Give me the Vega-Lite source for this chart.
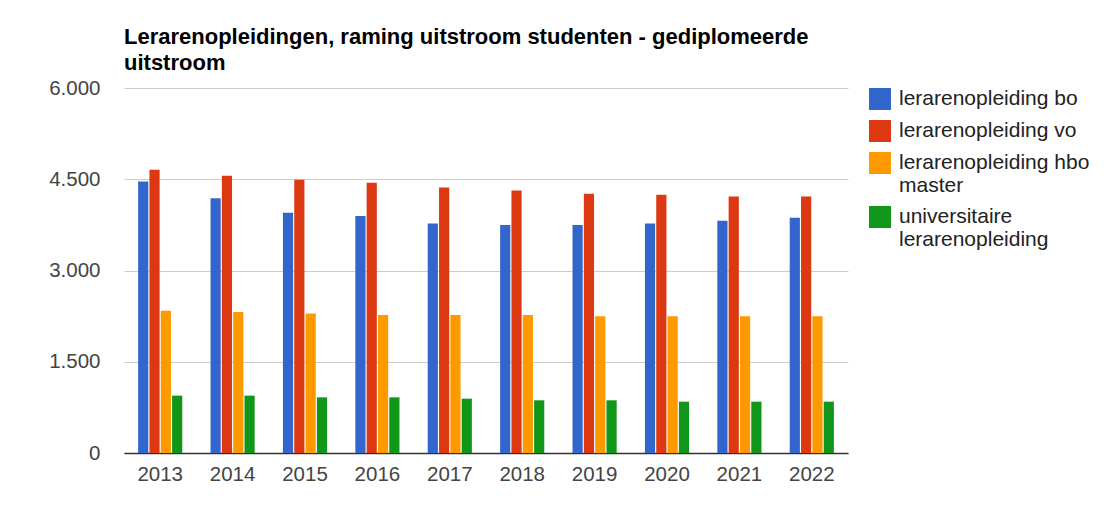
{
  "$schema": "https://vega.github.io/schema/vega-lite/v6.json",
  "width": 724,
  "height": 365,
  "autosize": {"type": "none"},
  "padding": {"left": 124, "top": 88, "right": 261, "bottom": 75},
  "background": "white",
  "title": {
    "text": ["Lerarenopleidingen, raming uitstroom studenten - gediplomeerde", "uitstroom"],
    "anchor": "start",
    "frame": "group",
    "font": "Liberation Sans",
    "fontSize": 22,
    "fontWeight": "bold",
    "color": "#000000",
    "lineHeight": 26,
    "offset": 3
  },
  "data": {
    "values": [
      {"year": "2013", "series": "lerarenopleiding bo", "value": 4464},
      {"year": "2013", "series": "lerarenopleiding vo", "value": 4656},
      {"year": "2013", "series": "lerarenopleiding hbo master", "value": 2339},
      {"year": "2013", "series": "universitaire lerarenopleiding", "value": 943},
      {"year": "2014", "series": "lerarenopleiding bo", "value": 4189},
      {"year": "2014", "series": "lerarenopleiding vo", "value": 4557},
      {"year": "2014", "series": "lerarenopleiding hbo master", "value": 2317},
      {"year": "2014", "series": "universitaire lerarenopleiding", "value": 943},
      {"year": "2015", "series": "lerarenopleiding bo", "value": 3949},
      {"year": "2015", "series": "lerarenopleiding vo", "value": 4491},
      {"year": "2015", "series": "lerarenopleiding hbo master", "value": 2295},
      {"year": "2015", "series": "universitaire lerarenopleiding", "value": 915},
      {"year": "2016", "series": "lerarenopleiding bo", "value": 3894},
      {"year": "2016", "series": "lerarenopleiding vo", "value": 4442},
      {"year": "2016", "series": "lerarenopleiding hbo master", "value": 2267},
      {"year": "2016", "series": "universitaire lerarenopleiding", "value": 915},
      {"year": "2017", "series": "lerarenopleiding bo", "value": 3774},
      {"year": "2017", "series": "lerarenopleiding vo", "value": 4365},
      {"year": "2017", "series": "lerarenopleiding hbo master", "value": 2267},
      {"year": "2017", "series": "universitaire lerarenopleiding", "value": 893},
      {"year": "2018", "series": "lerarenopleiding bo", "value": 3746},
      {"year": "2018", "series": "lerarenopleiding vo", "value": 4316},
      {"year": "2018", "series": "lerarenopleiding hbo master", "value": 2267},
      {"year": "2018", "series": "universitaire lerarenopleiding", "value": 866},
      {"year": "2019", "series": "lerarenopleiding bo", "value": 3746},
      {"year": "2019", "series": "lerarenopleiding vo", "value": 4261},
      {"year": "2019", "series": "lerarenopleiding hbo master", "value": 2246},
      {"year": "2019", "series": "universitaire lerarenopleiding", "value": 866},
      {"year": "2020", "series": "lerarenopleiding bo", "value": 3774},
      {"year": "2020", "series": "lerarenopleiding vo", "value": 4245},
      {"year": "2020", "series": "lerarenopleiding hbo master", "value": 2246},
      {"year": "2020", "series": "universitaire lerarenopleiding", "value": 844},
      {"year": "2021", "series": "lerarenopleiding bo", "value": 3818},
      {"year": "2021", "series": "lerarenopleiding vo", "value": 4217},
      {"year": "2021", "series": "lerarenopleiding hbo master", "value": 2246},
      {"year": "2021", "series": "universitaire lerarenopleiding", "value": 844},
      {"year": "2022", "series": "lerarenopleiding bo", "value": 3867},
      {"year": "2022", "series": "lerarenopleiding vo", "value": 4217},
      {"year": "2022", "series": "lerarenopleiding hbo master", "value": 2246},
      {"year": "2022", "series": "universitaire lerarenopleiding", "value": 844}
    ]
  },
  "mark": {"type": "bar"},
  "encoding": {
    "x": {
      "field": "year",
      "type": "nominal",
      "title": null,
      "scale": {"paddingInner": 0.39, "paddingOuter": 0.195},
      "axis": {
        "labelAngle": 0,
        "labelFont": "Liberation Sans",
        "labelFontSize": 20.5,
        "labelColor": "#444444",
        "labelPadding": 11,
        "ticks": false,
        "tickSize": 0,
        "domain": true,
        "domainColor": "#333333",
        "domainWidth": 1.5,
        "grid": false
      }
    },
    "xOffset": {
      "field": "series",
      "type": "nominal",
      "sort": ["lerarenopleiding bo", "lerarenopleiding vo", "lerarenopleiding hbo master", "universitaire lerarenopleiding"],
      "scale": {"paddingInner": 0.1}
    },
    "y": {
      "field": "value",
      "type": "quantitative",
      "title": null,
      "scale": {"domain": [0, 6000], "nice": false},
      "axis": {
        "values": [0, 1500, 3000, 4500, 6000],
        "labelExpr": "replace(format(datum.value, ','), ',', '.')",
        "labelFont": "Liberation Sans",
        "labelFontSize": 20.5,
        "labelColor": "#444444",
        "labelPadding": 24,
        "ticks": false,
        "tickSize": 0,
        "domain": false,
        "gridColor": "#cccccc",
        "gridWidth": 1
      }
    },
    "color": {
      "field": "series",
      "type": "nominal",
      "title": null,
      "scale": {
        "domain": ["lerarenopleiding bo", "lerarenopleiding vo", "lerarenopleiding hbo master", "universitaire lerarenopleiding"],
        "range": ["#3366cc", "#dc3912", "#ff9900", "#109618"]
      },
      "legend": {
        "orient": "right",
        "offset": 21,
        "padding": 0,
        "symbolType": "square",
        "symbolSize": 484,
        "symbolStrokeWidth": 0,
        "symbolOpacity": 1,
        "labelFont": "Liberation Sans",
        "labelFontSize": 21,
        "labelColor": "#222222",
        "labelLimit": 300,
        "labelOffset": 8,
        "labelLineHeight": 24,
        "rowPadding": 10,
        "labelExpr": "datum.label == 'lerarenopleiding hbo master' ? ['lerarenopleiding hbo', 'master'] : datum.label == 'universitaire lerarenopleiding' ? ['universitaire', 'lerarenopleiding'] : datum.label"
      }
    }
  },
  "config": {
    "view": {"stroke": null},
    "font": "Liberation Sans"
  }
}
